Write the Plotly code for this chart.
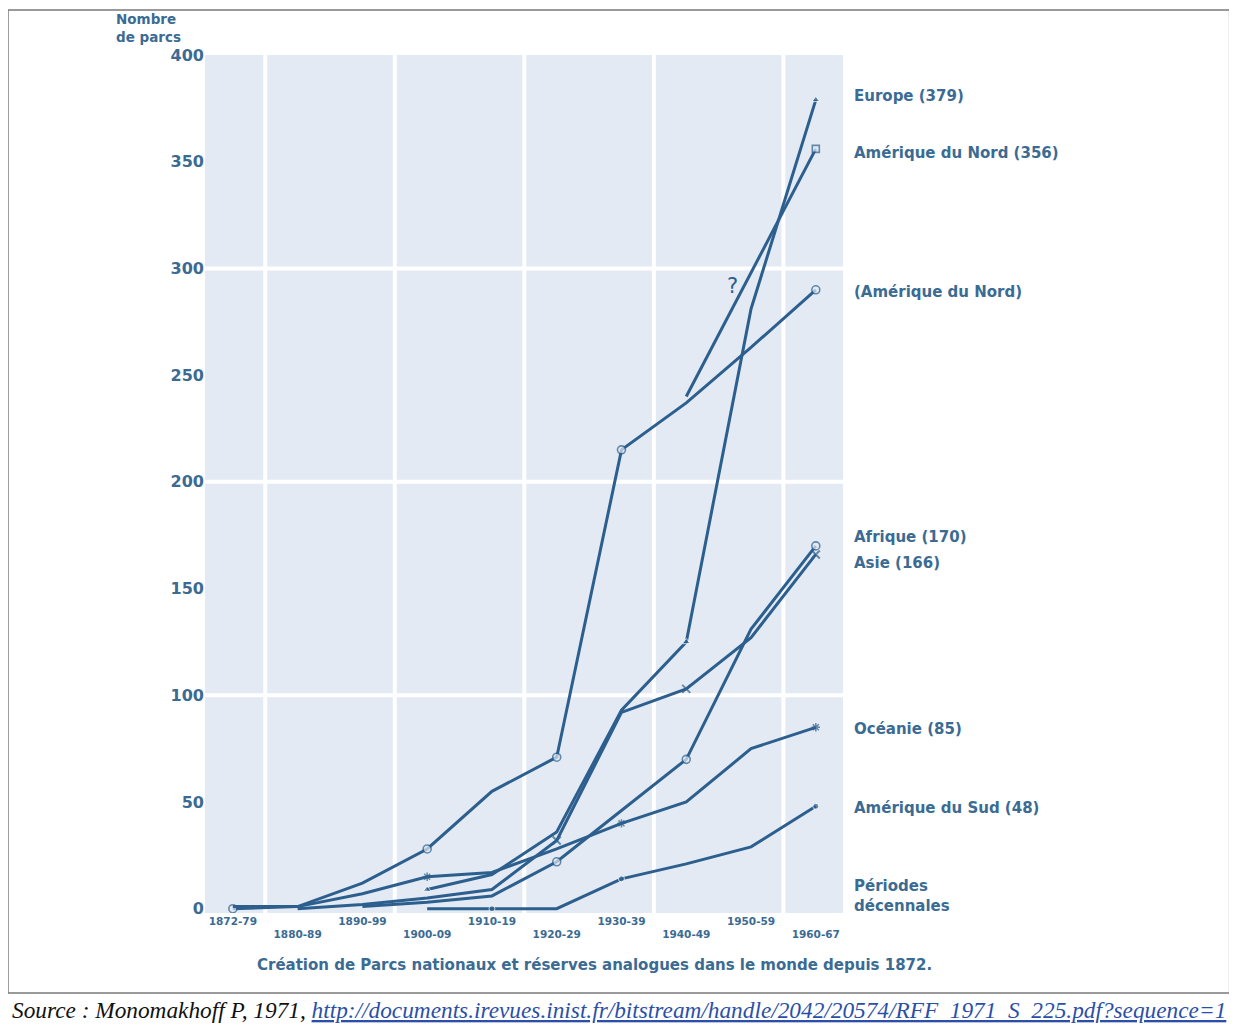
import plotly.graph_objects as go

periods = ["1872-79", "1880-89", "1890-99", "1900-09", "1910-19",
           "1920-29", "1930-39", "1940-49", "1950-59", "1960-67"]

# values (number of parks)
amn_old = [0, 1, 12, 28, 55, 71, 215, 237, 263, 290]          # (Amérique du Nord)
amn_new_x = ["1940-49", "1960-67"]
amn_new = [240, 356]                                            # Amérique du Nord (356) "?"
europe_x = periods[3:]
europe = [9, 16, 36, 93, 125, 281, 379]
asie_x = periods[1:]
asie = [0, 2, 5, 9, 32, 92, 103, 127, 166]
afrique_x = periods[2:]
afrique = [1, 3, 6, 22, 46, 70, 131, 170]
oceanie = [1, 1, 7, 15, 17, 28, 40, 50, 75, 85]
amsud_x = periods[3:]
amsud = [0, 0, 0, 14, 21, 29, 48]

y_ticks = list(range(0, 401, 50))
x_ticktext = [p if i % 2 == 0 else "<br>" + p for i, p in enumerate(periods)]

labels = ["Europe (379)", "Amérique du Nord (356)", "(Amérique du Nord)",
          "Afrique (170)", "Asie (166)", "Océanie (85)", "Amérique du Sud (48)"]
label_y = [381, 354, 289, 174, 162, 84, 47]

LINE = "#2c5f8e"
TEXT = "#3b6b93"
BG = "#e3eaf3"
W = 3


def marks(n, idx, size):
    return [size if i in idx else 0 for i in range(n)]


fig = go.Figure()

fig.add_trace(go.Scatter(
    x=periods, y=amn_old, mode="lines+markers",
    line=dict(color=LINE, width=W),
    marker=dict(symbol="circle", size=marks(10, [0, 3, 5, 6, 9], 8),
                color=BG, line=dict(color=LINE, width=1.6)),
))
fig.add_trace(go.Scatter(
    x=amn_new_x, y=amn_new, mode="lines+markers",
    line=dict(color=LINE, width=W),
    marker=dict(symbol="square", size=[0, 7], color=BG,
                line=dict(color=LINE, width=1.6)),
))
fig.add_trace(go.Scatter(
    x=europe_x, y=europe, mode="lines+markers",
    line=dict(color=LINE, width=W),
    marker=dict(symbol="triangle-up", size=marks(7, [0, 4, 6], 7), color=LINE),
))
fig.add_trace(go.Scatter(
    x=asie_x, y=asie, mode="lines+markers",
    line=dict(color=LINE, width=W),
    marker=dict(symbol="x-thin", size=marks(9, [4, 6, 8], 8),
                color=LINE, line=dict(color=LINE, width=2)),
))
fig.add_trace(go.Scatter(
    x=afrique_x, y=afrique, mode="lines+markers",
    line=dict(color=LINE, width=W),
    marker=dict(symbol="circle", size=marks(8, [3, 5, 7], 8), color=BG,
                line=dict(color=LINE, width=1.6)),
))
fig.add_trace(go.Scatter(
    x=periods, y=oceanie, mode="lines+markers",
    line=dict(color=LINE, width=W),
    marker=dict(symbol="asterisk", size=marks(10, [3, 6, 9], 7),
                color=LINE, line=dict(color=LINE, width=1.5)),
))
fig.add_trace(go.Scatter(
    x=amsud_x, y=amsud, mode="lines+markers",
    line=dict(color=LINE, width=W),
    marker=dict(symbol="circle", size=marks(7, [1, 3, 6], 6), color=LINE),
))

shapes = []
for gx in [0.5, 2.5, 4.5, 6.5, 8.5]:
    shapes.append(dict(type="line", xref="x", yref="paper", x0=gx, x1=gx, y0=0, y1=1,
                       line=dict(color="white", width=4), layer="below"))
for gy in [100, 200, 300]:
    shapes.append(dict(type="line", xref="paper", yref="y", x0=0, x1=1, y0=gy, y1=gy,
                       line=dict(color="white", width=4), layer="below"))
# outer frame of the figure
shapes.append(dict(type="rect", xref="paper", yref="paper",
                   x0=-0.3088, x1=1.606, y0=-0.0932, y1=1.0524,
                   line=dict(color="#7a7a7a", width=1.5)))

LBL = dict(family="DejaVu Sans", size=15, color=TEXT, weight="bold")
annotations = []
for t, yv in zip(labels, label_y):
    annotations.append(dict(text=t, x=1.014, xref="paper", y=yv, yref="y",
                            xanchor="left", yanchor="middle", showarrow=False, font=LBL))
annotations.append(dict(text="Périodes<br>décennales", x=1.014, xref="paper", y=6, yref="y",
                        xanchor="left", yanchor="middle", showarrow=False, align="left",
                        font=LBL))
annotations.append(dict(text="Nombre<br>de parcs", x=-0.142, xref="paper", y=1.009, yref="paper",
                        xanchor="left", yanchor="bottom", showarrow=False, align="left",
                        font=dict(family="DejaVu Sans", size=13.5, color=TEXT, weight="bold")))
annotations.append(dict(text="?", x=7.72, xref="x", y=292, yref="y",
                        showarrow=False, font=dict(family="DejaVu Sans", size=21, color=LINE)))
annotations.append(dict(text="Création de Parcs nationaux et réserves analogues dans le monde depuis 1872.",
                        x=0.611, xref="paper", y=-0.061, yref="paper", showarrow=False,
                        xanchor="center", yanchor="middle",
                        font=dict(family="DejaVu Sans", size=15, color=TEXT, weight="bold")))
annotations.append(dict(
    text="<i>Source : Monomakhoff P, 1971, </i>"
         "<span style='color:#2b4fa8'><i><u>http://documents.irevues.inist.fr/bitstream/handle/2042/20574/RFF_1971_S_225.pdf?sequence=1</u></i></span>",
    x=-0.306, xref="paper", y=-0.113, yref="paper", showarrow=False,
    xanchor="left", yanchor="middle",
    font=dict(family="Liberation Serif", size=23.3, color="#111111")))

fig.update_layout(
    width=1229, height=1024, autosize=False,
    margin=dict(l=197, r=394, t=47, b=119),
    paper_bgcolor="white", plot_bgcolor=BG,
    showlegend=False,
    shapes=shapes, annotations=annotations,
    xaxis=dict(type="category", categoryorder="array", categoryarray=periods,
               range=[-0.43, 9.42], showgrid=False, zeroline=False, showline=False,
               tickmode="array", tickvals=periods, ticktext=x_ticktext, ticks="",
               tickfont=dict(family="DejaVu Sans", size=10.5, color=TEXT, weight="bold")),
    yaxis=dict(range=[-2, 400], showgrid=False, zeroline=False, showline=False,
               tickmode="array", tickvals=y_ticks, ticks="",
               tickfont=dict(family="DejaVu Sans", size=16, color=TEXT, weight="bold")),
)

fig.write_html("out.html")
